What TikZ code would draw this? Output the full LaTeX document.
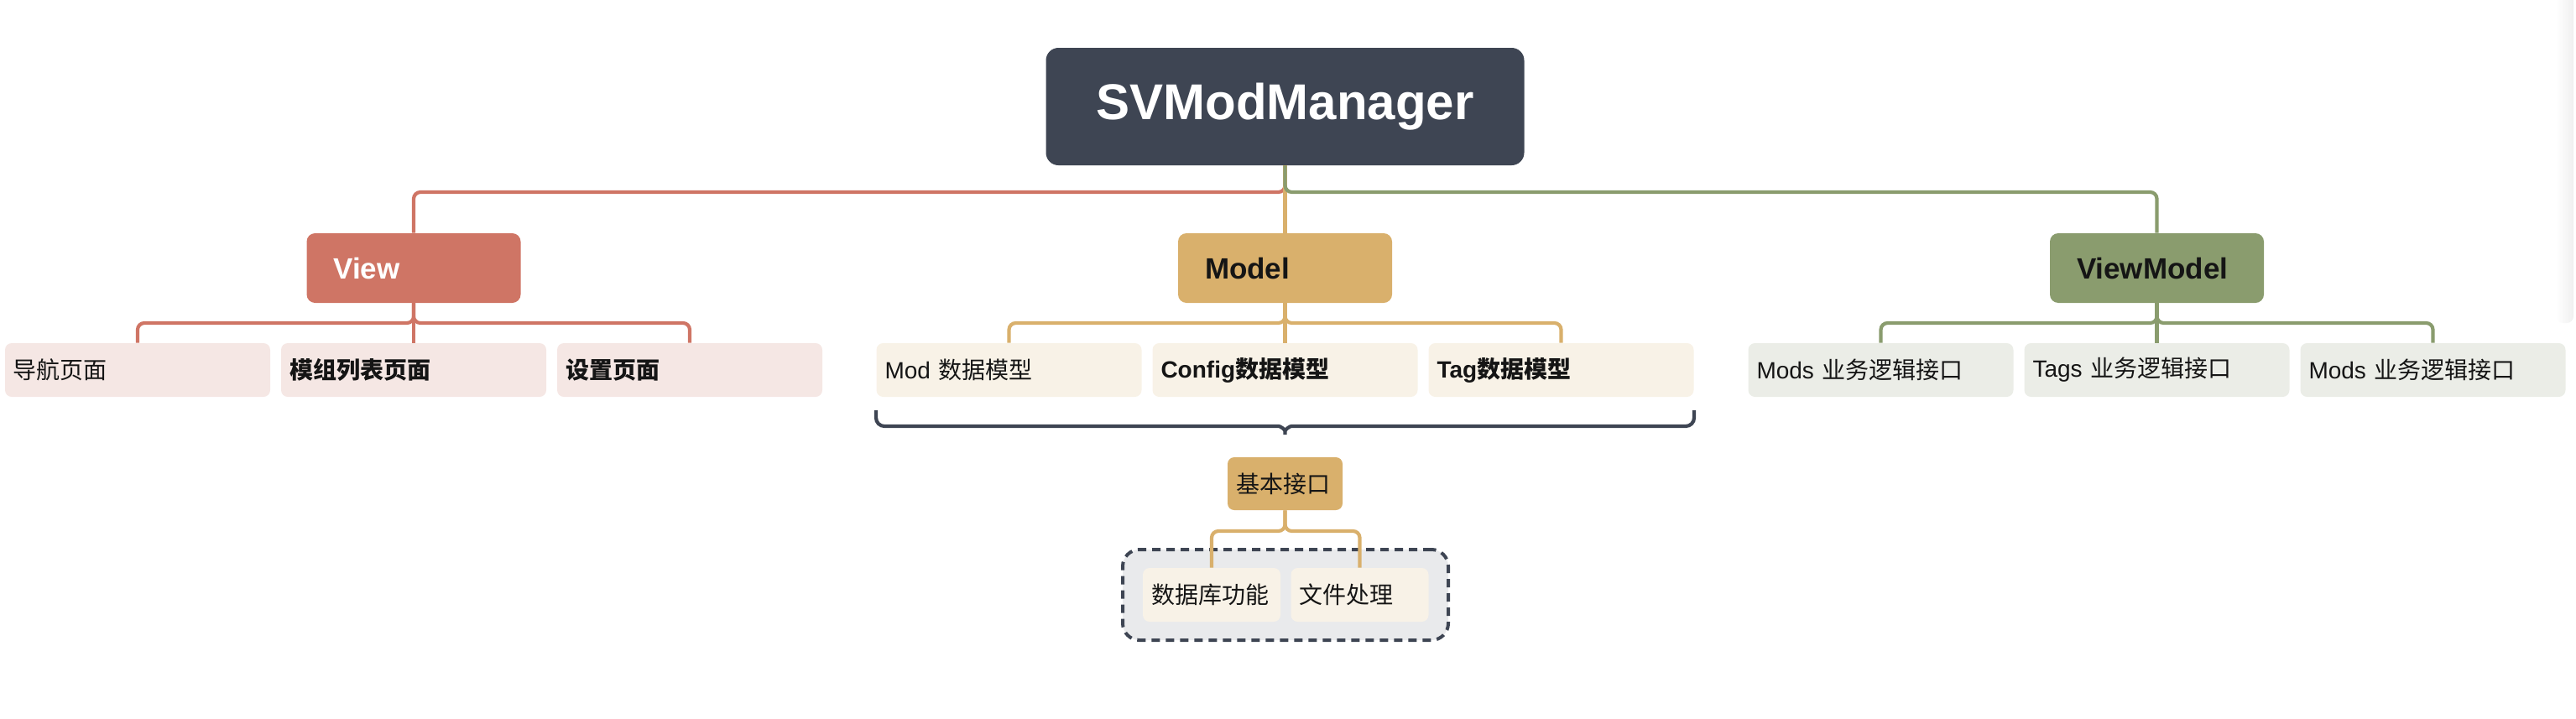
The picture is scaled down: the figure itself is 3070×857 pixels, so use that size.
\documentclass[tikz,border=0pt]{standalone}
\usepackage{fontspec}
\setmainfont{Liberation Sans}
\newfontfamily\cjk{Noto Sans CJK SC}
\newcommand\zhtxt[1]{{\cjk #1}}
\usetikzlibrary{calc}
\definecolor{rootc}{HTML}{3E4553}
\definecolor{viewc}{HTML}{CF7565}
\definecolor{viewl}{HTML}{F5E7E4}
\definecolor{modelc}{HTML}{D9B06C}
\definecolor{modell}{HTML}{F8F2E7}
\definecolor{vmc}{HTML}{8A9C6E}
\definecolor{vml}{HTML}{EBEDE7}
\definecolor{boxgray}{HTML}{E9EAEC}
\definecolor{txt}{HTML}{151515}
\tikzset{
  rootbox/.style={fill=rootc, rounded corners=7.5pt, minimum width=285pt, minimum height=70pt,
    inner sep=0pt, text=white, align=center, font=\bfseries\fontsize{30}{36}\selectfont},
  topbox/.style={rounded corners=5pt, minimum height=41.5pt, inner xsep=16pt, inner ysep=0pt,
    text width=95.5pt, align=left, font=\bfseries\fontsize{17.5}{21}\selectfont},
  leaf/.style={rounded corners=4pt, minimum height=32pt, inner xsep=5pt, inner ysep=0pt,
    text width=148pt, align=left, text=txt, font=\fontsize{14}{17}\selectfont},
  smallleaf/.style={leaf, text width=72pt},
  basebox/.style={leaf, fill=modelc, text width=58.5pt, minimum height=31.5pt},
  conn/.style={line width=2.1pt, rounded corners=4pt},
  redline/.style={conn, draw=viewc},
  orangeline/.style={conn, draw=modelc},
  greenline/.style={conn, draw=vmc},
  bracestyle/.style={draw=rootc, line width=2.1pt, rounded corners=5pt},
  groupbox/.style={draw=rootc, fill=boxgray, line width=2pt, dash pattern=on 5pt off 3.5pt,
    rounded corners=10pt, minimum width=194pt, minimum height=54pt, inner sep=0pt},
}
\begin{document}
\begin{tikzpicture}[x=0.5pt,y=-0.5pt]
\useasboundingbox (0,0) rectangle (3070,857);
% faint right edge shade
\shade[left color=white, right color=black!6, rounded corners=4pt] (3046,-10) rectangle (3067,385);

% root
\node[rootbox] (root) at (1531.5,127) {SVModManager};

% top level
\node[topbox, fill=viewc, text=white] (view) at (493,319.5) {View};
\node[topbox, fill=modelc, text=txt] (model) at (1531.5,319.5) {Model};
\node[topbox, fill=vmc, text=txt] (vm) at (2570.5,319.5) {ViewModel};

% view children
\node[leaf, fill=viewl] (v1) at (164,441) {\zhtxt{导航页面}};
\node[leaf, fill=viewl, font=\bfseries\fontsize{14}{17}\selectfont] (v2) at (493,441) {\zhtxt{模组列表页面}};
\node[leaf, fill=viewl, font=\bfseries\fontsize{14}{17}\selectfont] (v3) at (822,441) {\zhtxt{设置页面}};

% model children
\node[leaf, fill=modell] (m1) at (1202.5,441) {Mod \zhtxt{数据模型}};
\node[leaf, fill=modell, font=\bfseries\fontsize{14}{17}\selectfont] (m2) at (1531.5,441) {Config\zhtxt{数据模型}};
\node[leaf, fill=modell, font=\bfseries\fontsize{14}{17}\selectfont] (m3) at (1860.5,441) {Tag\zhtxt{数据模型}};

% viewmodel children
\node[leaf, fill=vml] (w1) at (2241.5,441) {Mods \zhtxt{业务逻辑接口}};
\node[leaf, fill=vml] (w2) at (2570.5,441) {Tags \zhtxt{业务逻辑接口}};
\node[leaf, fill=vml] (w3) at (2899.5,441) {Mods \zhtxt{业务逻辑接口}};

% brace
\coordinate (bl) at (1044,489);
\coordinate (br) at (2019,489);
\coordinate (btip) at (1531.5,524);
\draw[bracestyle] (bl) -- (1044,508) -- (1514,508)
  .. controls (1526,508) and (1531.5,512) .. (btip)
  .. controls (1531.5,512) and (1537,508) .. (1549,508) -- (2019,508) -- (br);

% base interface
\node[basebox] (base) at (1531.5,576.5) {\zhtxt{基本接口}};
\node[groupbox] (grp) at (1532,709) {};
\node[smallleaf, fill=modell] (db) at (1444,709) {\zhtxt{数据库功能}};
\node[smallleaf, fill=modell] (fh) at (1620.5,709) {\zhtxt{文件处理}};

% connectors root -> top
\draw[redline] (root.south) -- (root.south |- 0,229) -| (view.north);
\draw[orangeline] (root.south) -- (model.north);
\draw[greenline] (root.south) -- (root.south |- 0,229) -| (vm.north);

% view -> children
\draw[redline] (view.south) -- (view.south |- 0,385) -| (v1.north);
\draw[redline] (view.south) -- (view.south |- 0,385) -| (v3.north);
\draw[redline] (view.south) -- (v2.north);

% model -> children
\draw[orangeline] (model.south) -- (model.south |- 0,385) -| (m1.north);
\draw[orangeline] (model.south) -- (model.south |- 0,385) -| (m3.north);
\draw[orangeline] (model.south) -- (m2.north);

% vm -> children
\draw[greenline] (vm.south) -- (vm.south |- 0,385) -| (w1.north);
\draw[greenline] (vm.south) -- (vm.south |- 0,385) -| (w3.north);
\draw[greenline] (vm.south) -- (w2.north);

% base -> children
\draw[orangeline] (base.south) -- (base.south |- 0,633) -| (db.north);
\draw[orangeline] (base.south) -- (base.south |- 0,633) -| (fh.north);
\end{tikzpicture}
\end{document}
